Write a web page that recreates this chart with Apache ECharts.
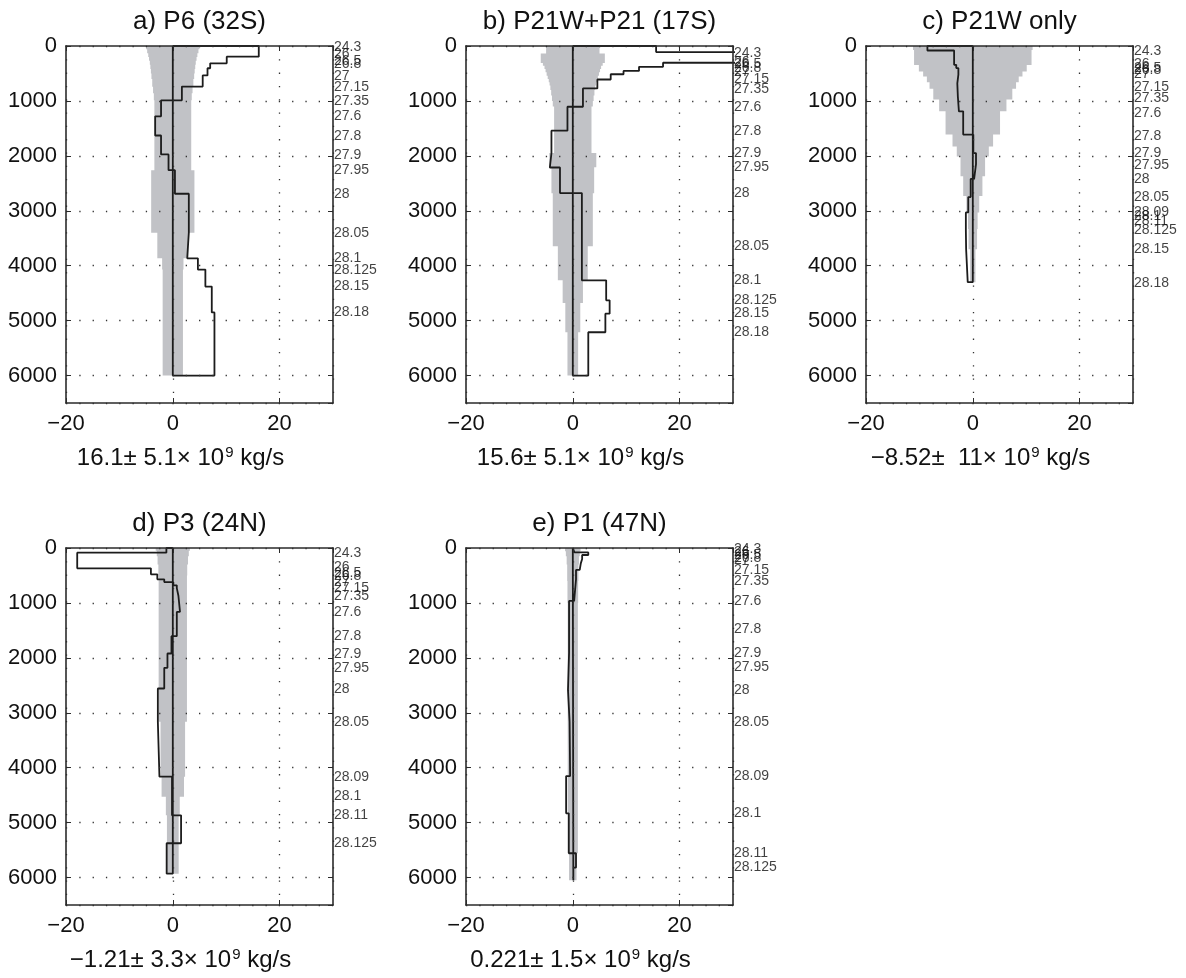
<!DOCTYPE html>
<html><head><meta charset="utf-8">
<script src="https://cdn.jsdelivr.net/npm/echarts/dist/echarts.min.js"></script>
<style>html,body{margin:0;padding:0;background:#fff}#c{width:1186px;height:978px}</style>
</head><body><div id="c"></div>
<script>
// ---------- data ----------
const titles = ['a) P6 (32S)', 'b) P21W+P21 (17S)', 'c) P21W only', 'd) P3 (24N)', 'e) P1 (47N)'];
const totalMean = ['16.1', '15.6', '\u22128.52', '\u22121.21', '0.221'];
const totalErr = [' 5.1', ' 5.1', '  11', ' 3.3', ' 1.5'];
const yTickValues = [0, 1000, 2000, 3000, 4000, 5000, 6000];
const xTickValues = [-20, 0, 20];

// layer boundaries (m) and cumulative transport (10^9 kg/s) per layer
const layerBoundsA = [0, 15, 195, 315, 405, 535, 738, 990, 1280, 1630, 1975, 2260, 2690, 3400, 3865, 4071, 4380, 4850, 6000];
const transportA = [16.1, 16.1, 10.1, 7.0, 6.5, 5.6, 1.7, -2.2, -3.3, -2.2, -0.8, 0.4, 3.0, 2.7, 4.7, 6.1, 7.3, 7.8];
const layerBoundsB = [0, 110, 305, 380, 453, 514, 610, 773, 1106, 1542, 1953, 2212, 2678, 3648, 4267, 4630, 4873, 5212, 6000];
const transportB = [15.6, 45, 16.9, 12.4, 9.5, 7.1, 4.6, 1.9, -1.0, -4.0, -4.3, -2.4, 1.7, 1.7, 6.25, 6.9, 6.1, 2.9];
const layerBoundsC = [0, 82, 342, 402, 523, 680, 920, 1190, 1612, 1950, 2150, 2420, 2750, 3030, 3360, 3700, 4300];
const transportC = [-8.5, -3.5, -3.1, -2.7, -2.9, -2.8, -2.6, -1.8, 0.1, 0.6, 0.25, -0.4, -0.85, -1.3, -1.25, -0.95];
const layerBoundsD = [0, 85, 370, 480, 570, 620, 680, 730, 870, 1164, 1606, 1921, 2182, 2558, 3164, 4164, 4867, 5376, 5930];
const transportD = [-1.2, -17.9, -4.1, -2.9, -1.6, 0.1, 0.75, 1.05, 1.35, 0.75, -0.25, -1.0, -1.6, -2.8, -2.5, -0.15, 1.55, -1.15];
const layerBoundsE = [0, 80, 127, 200, 280, 400, 570, 964, 1909, 2588, 3164, 4152, 4830, 5558, 5818, 6050];
const transportE = [0.3, 2.9, 1.75, 1.5, 1.3, 0.6, 0.25, -0.7, -0.9, -0.6, -0.5, -1.25, -0.75, 0.6, 0.1];

// uncertainty band (half width, 10^9 kg/s) between band boundaries (m)
const bandBoundsA = [0, 60, 130, 200, 270, 340, 420, 500, 600, 740, 860, 990, 2260, 3400, 3865, 4071, 6000];
const bandHalfA = [5.0, 4.8, 4.6, 4.45, 4.3, 4.2, 4.1, 4.0, 3.85, 3.7, 3.55, 3.45, 4.05, 2.9, 2.0, 1.9];
const bandBoundsB = [0, 138, 308, 360, 420, 480, 540, 600, 660, 720, 800, 900, 1000, 1100, 1950, 2206, 2680, 3648, 4267, 4680, 5212, 6000];
const bandHalfB = [5.0, 6.0, 5.6, 5.3, 5.1, 4.9, 4.7, 4.5, 4.35, 4.2, 4.05, 3.9, 3.75, 3.5, 4.4, 4.0, 3.75, 2.8, 1.9, 1.4, 1.0];
const bandBoundsC = [0, 75, 345, 465, 555, 660, 780, 975, 1190, 1612, 1830, 2010, 2370, 2730, 3030, 3330, 3700, 4300];
const bandHalfC = [11.2, 11.0, 10.1, 9.3, 8.6, 8.1, 7.4, 6.3, 5.1, 3.8, 3.0, 2.3, 1.8, 1.2, 0.9, 0.8, 0.5];
const bandBoundsD = [0, 50, 150, 300, 500, 3164, 4164, 4527, 4867, 5930];
const bandHalfD = [3.2, 3.0, 2.85, 2.7, 2.65, 2.3, 2.1, 1.3, 1.1];
const bandBoundsE = [0, 60, 150, 300, 600, 1000, 5558, 6050];
const bandHalfE = [1.45, 1.3, 1.15, 1.05, 1.0, 0.95, 0.7];

// density labels on the right and the depth they sit at (m)
const densityA = ['24.3','26','26.5','26.8','27','27.15','27.35','27.6','27.8','27.9','27.95','28','28.05','28.1','28.125','28.15','28.18'];
const densityDepthA = [15, 150, 275, 335, 545, 740, 995, 1285, 1635, 1980, 2265, 2705, 3400, 3865, 4075, 4380, 4850];
const densityB = ['24.3','26','26.5','26.8','27','27.15','27.35','27.6','27.8','27.9','27.95','28','28.05','28.1','28.125','28.15','28.18'];
const densityDepthB = [121, 285, 327, 406, 467, 606, 788, 1115, 1558, 1952, 2206, 2679, 3648, 4267, 4630, 4873, 5212];
const densityC = ['24.3','26','26.5','26.8','27','27.15','27.35','27.6','27.8','27.9','27.95','28','28.05','28.09','28.1','28.11','28.125','28.15','28.18'];
const densityDepthC = [85, 327, 395, 440, 520, 750, 950, 1224, 1636, 1952, 2164, 2424, 2752, 3030, 3103, 3194, 3358, 3697, 4315];
const densityD = ['24.3','26','26.5','26.8','27','27.15','27.35','27.6','27.8','27.9','27.95','28','28.05','28.09','28.1','28.11','28.125'];
const densityDepthD = [91, 345, 455, 515, 630, 739, 879, 1164, 1606, 1933, 2194, 2576, 3164, 4164, 4527, 4873, 5376];
const densityE = ['24.3','26','26.5','26.8','27','27.15','27.35','27.6','27.8','27.9','27.95','28','28.05','28.09','28.1','28.11','28.125'];
const densityDepthE = [12, 73, 121, 176, 224, 406, 600, 964, 1485, 1909, 2176, 2588, 3164, 4152, 4830, 5558, 5818];

// ---------- assembly ----------
const layerBounds = [layerBoundsA, layerBoundsB, layerBoundsC, layerBoundsD, layerBoundsE];
const transports = [transportA, transportB, transportC, transportD, transportE];
const bandBounds = [bandBoundsA, bandBoundsB, bandBoundsC, bandBoundsD, bandBoundsE];
const bandHalves = [bandHalfA, bandHalfB, bandHalfC, bandHalfD, bandHalfE];
const densities = [densityA, densityB, densityC, densityD, densityE];
const densityDepths = [densityDepthA, densityDepthB, densityDepthC, densityDepthD, densityDepthE];

const FONT = '"Liberation Sans", Arial, Helvetica, sans-serif';
const gridPos = [[66, 46], [466, 46], [866, 46], [66, 548], [466, 548]];
const GW = 267, GH = 357;
const frameColor = '#2b2b2b';
const minus = v => (v < 0 ? '\u2212' + Math.abs(v) : String(v));

const grids = [], xAxes = [], yAxes = [], series = [], titleArr = [];

gridPos.forEach((p, i) => {
  grids.push({ left: p[0], top: p[1], width: GW, height: GH, containLabel: false });
  titleArr.push({
    text: titles[i], left: p[0] + GW / 2, top: p[1] - 37, textAlign: 'center', padding: 0,
    textStyle: { fontFamily: FONT, fontSize: 26, fontWeight: 'normal', color: '#111' }
  });
  // bottom x axis
  xAxes.push({
    gridIndex: i, type: 'value', min: -20, max: 30, interval: 20, position: 'bottom', z: 10,
    axisLine: { show: true, onZero: false, lineStyle: { color: frameColor, width: 1.6 } },
    axisTick: { show: true, inside: true, length: 5, lineStyle: { color: frameColor } },
    axisLabel: { showMaxLabel: false, fontFamily: FONT, fontSize: 22, color: '#111', margin: 10, formatter: minus },
    splitLine: { show: true, lineStyle: { color: '#333', width: 1.3, type: [1.3, 12] } },
    name: '{n|' + totalMean[i] + '±' + totalErr[i] + '× 10}{s|9}{n| kg/s}',
    nameLocation: 'middle', nameGap: 42,
    nameTextStyle: {
      fontFamily: FONT, color: '#111', padding: [0, 38, 0, 0],
      rich: {
        n: { fontFamily: FONT, fontSize: 24, color: '#111' },
        s: { fontFamily: FONT, fontSize: 15, color: '#111', verticalAlign: 'top', padding: [0, 0, 12, 1] }
      }
    }
  });
  // top x axis (frame)
  xAxes.push({
    gridIndex: i, type: 'value', min: -20, max: 30, interval: 20, position: 'top', z: 10,
    axisLine: { show: true, onZero: false, lineStyle: { color: frameColor, width: 1.6 } },
    axisTick: { show: true, inside: true, length: 5, lineStyle: { color: frameColor } },
    axisLabel: { show: false }, splitLine: { show: false }
  });
  // left y axis
  yAxes.push({
    gridIndex: i, type: 'value', inverse: true, min: 0, max: 6500, interval: 1000, position: 'left', z: 10,
    axisLine: { show: true, onZero: false, lineStyle: { color: frameColor, width: 1.6 } },
    axisTick: { show: true, inside: true, length: 5, lineStyle: { color: frameColor } },
    axisLabel: { showMaxLabel: false, fontFamily: FONT, fontSize: 22, color: '#111', margin: 9, formatter: v => String(v) },
    splitLine: { show: true, lineStyle: { color: '#333', width: 1.3, type: [1.3, 12] } }
  });
  // right y axis (frame)
  yAxes.push({
    gridIndex: i, type: 'value', inverse: true, min: 0, max: 6500, interval: 1000, position: 'right', z: 10,
    axisLine: { show: true, onZero: false, lineStyle: { color: frameColor, width: 1.6 } },
    axisTick: { show: true, inside: true, length: 5, lineStyle: { color: frameColor } },
    axisLabel: { show: false }, splitLine: { show: false }
  });

  const xi = i * 2, yi = i * 2;
  const bb = bandBounds[i], bh = bandHalves[i];
  // band
  series.push({
    type: 'custom', xAxisIndex: xi, yAxisIndex: yi, z: 1, silent: true,
    data: [[0, 0]],
    renderItem: (params, api) => {
      const pts = [];
      for (let j = 0; j < bh.length; j++) {
        pts.push(api.coord([bh[j], bb[j]]));
        pts.push(api.coord([bh[j], bb[j + 1]]));
      }
      for (let j = bh.length - 1; j >= 0; j--) {
        pts.push(api.coord([-bh[j], bb[j + 1]]));
        pts.push(api.coord([-bh[j], bb[j]]));
      }
      return { type: 'polygon', shape: { points: pts }, style: { fill: '#c1c2c6', stroke: null } };
    }
  });
  // profile line
  const lb = layerBounds[i], tv = transports[i];
  const pts = [[0, lb[0]]];
  for (let j = 0; j < tv.length; j++) {
    pts.push([tv[j], lb[j]]);
    pts.push([tv[j], lb[j + 1]]);
  }
  pts.push([0, lb[lb.length - 1]]);
  pts.push([0, lb[0]]);
  series.push({
    type: 'line', xAxisIndex: xi, yAxisIndex: yi, z: 3, silent: true, clip: true,
    data: pts, symbol: 'none', smooth: false,
    lineStyle: { color: '#1c1c1c', width: 1.8 }
  });
  // density labels
  series.push({
    type: 'scatter', xAxisIndex: xi, yAxisIndex: yi, z: 4, silent: true, clip: false,
    symbolSize: 0,
    data: densities[i].map((t, k) => ({ name: t, value: [30, densityDepths[i][k]] })),
    label: { show: true, position: 'right', distance: 1, formatter: '{b}', fontFamily: FONT, fontSize: 14, color: '#111' },
    labelLayout: { hideOverlap: false }
  });
});

const chart = echarts.init(document.getElementById('c'), null, { renderer: 'canvas' });
chart.setOption({
  backgroundColor: '#ffffff',
  animation: false,
  title: titleArr,
  grid: grids,
  xAxis: xAxes,
  yAxis: yAxes,
  series: series
});
</script>
</body></html>
